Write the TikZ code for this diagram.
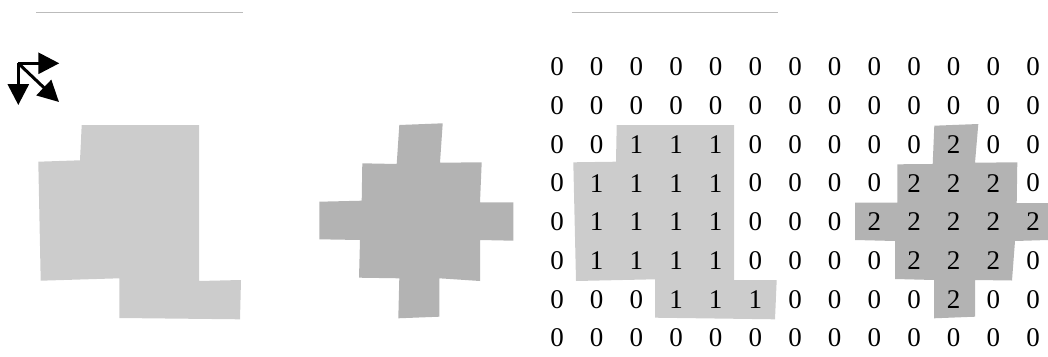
\documentclass[tikz,border=0pt]{standalone}
\usepackage{fontspec}
\setmainfont{Liberation Serif}
\usetikzlibrary{arrows.meta}
\definecolor{shadeone}{HTML}{CCCCCC}
\definecolor{shadetwo}{HTML}{B3B3B3}
\definecolor{rule}{HTML}{BBBBBB}

\begin{document}
\begin{tikzpicture}[x=1pt,y=-1pt,
    digit/.style={inner sep=0pt,font=\fontsize{27}{32}\selectfont},
    dir/.style={line width=3pt,-{Triangle[length=21pt,width=21pt]}}]
    \useasboundingbox (0,0) rectangle (1048,356);
    % rules at the top
    \draw[rule,line width=1pt] (36,12.3) -- (243,12.3);
    \draw[rule,line width=1pt] (571.7,12.3) -- (778.3,12.3);
    % direction icon
    \coordinate (o) at (18.3,63.3);
    \draw[dir] (o) -- (59.3,63.3);
    \draw[dir] (o) -- (18.3,105);
    \draw[dir] (o) -- (59,102);
    % the two objects
    \fill[shadeone] (81.7,125) -- (199,125) -- (199,281) -- (241,280) -- (240,319.3) -- (119.3,318)
      -- (119.3,278.3) -- (40.7,280.7) -- (38.3,161.7) -- (80,160.3) -- cycle;
    \fill[shadetwo] (399.3,125) -- (442.7,123.3) -- (440,162.7) -- (481.7,162.3) -- (480,202.3)
      -- (513.3,202.3) -- (513.3,240.7) -- (480,240) -- (480,281) -- (439.3,278.3) -- (439.3,316.7)
      -- (398.3,318.3) -- (399.3,278.3) -- (359,277.7) -- (360,240) -- (319.3,239.3) -- (319.3,201.7)
      -- (361.7,200.7) -- (362.3,163.3) -- (396.7,164) -- cycle;
    % labelled grid
    \fill[shadeone] (616.7,125) -- (734,125) -- (734,280) -- (776.7,280) -- (775,319.3) -- (655,317.7)
      -- (655,279.3) -- (576,281) -- (573.3,162.3) -- (616,161.7) -- cycle;
    \fill[shadetwo] (934.3,125.7) -- (978.3,124) -- (975,162.7) -- (1017.3,162.3) -- (1016.7,203)
      -- (1048,203) -- (1048,240) -- (1015,241) -- (1012,280.5) -- (975,280) -- (975,316.7)
      -- (934,318.3) -- (934,280) -- (895,279) -- (895,241) -- (855,240) -- (855,202.7)
      -- (897.3,202.7) -- (897.3,164.3) -- (932.7,164) -- cycle;
    \foreach \row [count=\r from 0] in {
        {0,0,0,0,0,0,0,0,0,0,0,0,0},
        {0,0,0,0,0,0,0,0,0,0,0,0,0},
        {0,0,1,1,1,0,0,0,0,0,2,0,0},
        {0,1,1,1,1,0,0,0,0,2,2,2,0},
        {0,1,1,1,1,0,0,0,2,2,2,2,2},
        {0,1,1,1,1,0,0,0,0,2,2,2,0},
        {0,0,0,1,1,1,0,0,0,0,2,0,0},
        {0,0,0,0,0,0,0,0,0,0,0,0,0}}
      {\foreach \v [count=\c from 0] in \row
        {\node[digit] (d\r-\c) at ({557+39.67*\c},{67+38.7*\r}) {\v};}}
  \end{tikzpicture}
\end{document}
